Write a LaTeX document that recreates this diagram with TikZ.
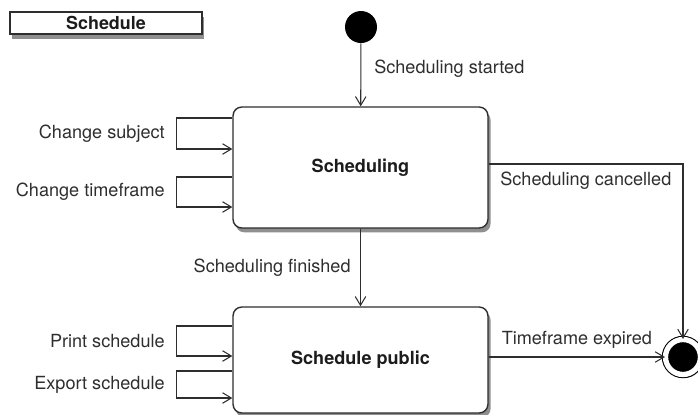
\documentclass[tikz,border=0pt]{standalone}
\usepackage{fontspec}
\setmainfont{TeX Gyre Heros}
\usepackage{xcolor}
\usepackage{tikz}
\usetikzlibrary{arrows.meta, positioning, shadows}
\definecolor{lineGray}{HTML}{2E2E2E}
\definecolor{labelInk}{HTML}{1C1C1C}
\definecolor{shadowGray}{HTML}{444444}

\begin{document}
\begin{tikzpicture}[
    x=0.02cm, y=-0.02cm,
    font=\fontsize{10.3}{12}\selectfont, text=labelInk,
    statebox/.style={
      rectangle, rounded corners=5pt, draw=lineGray, line width=0.8pt,
      fill=white, minimum width=5.1cm, inner sep=0pt,
      font=\fontsize{10.3}{12}\selectfont\bfseries,
      drop shadow={shadow xshift=1.5pt, shadow yshift=-2.5pt, fill=shadowGray, opacity=0.6}
    },
    titlebox/.style={
      rectangle, draw=lineGray, line width=1.2pt, fill=white,
      minimum width=3.84cm, minimum height=0.44cm, inner sep=0pt,
      font=\fontsize{10.2}{12}\selectfont\bfseries,
      drop shadow={shadow xshift=1pt, shadow yshift=-3pt, fill=shadowGray, opacity=0.6}
    },
    startdot/.style={circle, fill=black, minimum size=0.64cm, inner sep=0pt},
    enddot/.style={
      circle, draw=black, fill=black, line width=0.6pt,
      double=white, double distance=3pt, minimum size=0.7cm, inner sep=0pt,
      drop shadow={shadow xshift=1pt, shadow yshift=-2pt, fill=shadowGray, opacity=0.5}
    },
    trans/.style={-{Straight Barb[length=5pt, width=6pt]}, line width=0.6pt, lineGray},
  ]
  \useasboundingbox (0,0) rectangle (698,414);

  %% ── Title ──
  \node[titlebox] (title) at (106,23) {Schedule};

  %% ── States ──
  \node[startdot]                                  (start)  at (361,27)    {};
  \node[statebox, minimum height=2.42cm]           (sched)  at (360.5,167.5) {Scheduling};
  \node[statebox, minimum height=2.12cm]           (public) at (360.5,360)  {Schedule public};
  \node[enddot]                                    (end)    at (683,357)   {};

  %% ── Transitions ──
  \draw[trans] (start) -- (sched) node[pos=0.4, right=4pt] {Scheduling started};
  \draw[trans] (sched) -- (public) node[midway, left=2pt] {Scheduling finished};
  \draw[trans] (sched.east |- 0,164) -| (end) node[pos=0.25, below=1pt] {Scheduling cancelled};
  \draw[trans] (public.east |- end) -- (end) node[midway, above=1pt] {Timeframe expired};

  %% ── Self loops ──
  \draw[trans] (sched.west |- 0,118) -| ++(-56,31) node[pos=0.75, left=3pt] {Change subject}
    -- (sched.west |- 0,149);
  \draw[trans] (sched.west |- 0,177) -| ++(-56,30) node[pos=0.75, left=3pt] {Change timeframe}
    -- (sched.west |- 0,207);
  \draw[trans] (public.west |- 0,326) -| ++(-56,30) node[pos=0.75, left=3pt] {Print schedule}
    -- (public.west |- 0,356);
  \draw[trans] (public.west |- 0,371) -| ++(-56,27) node[pos=0.75, left=3pt] {Export schedule}
    -- (public.west |- 0,398);

\end{tikzpicture}
\end{document}
